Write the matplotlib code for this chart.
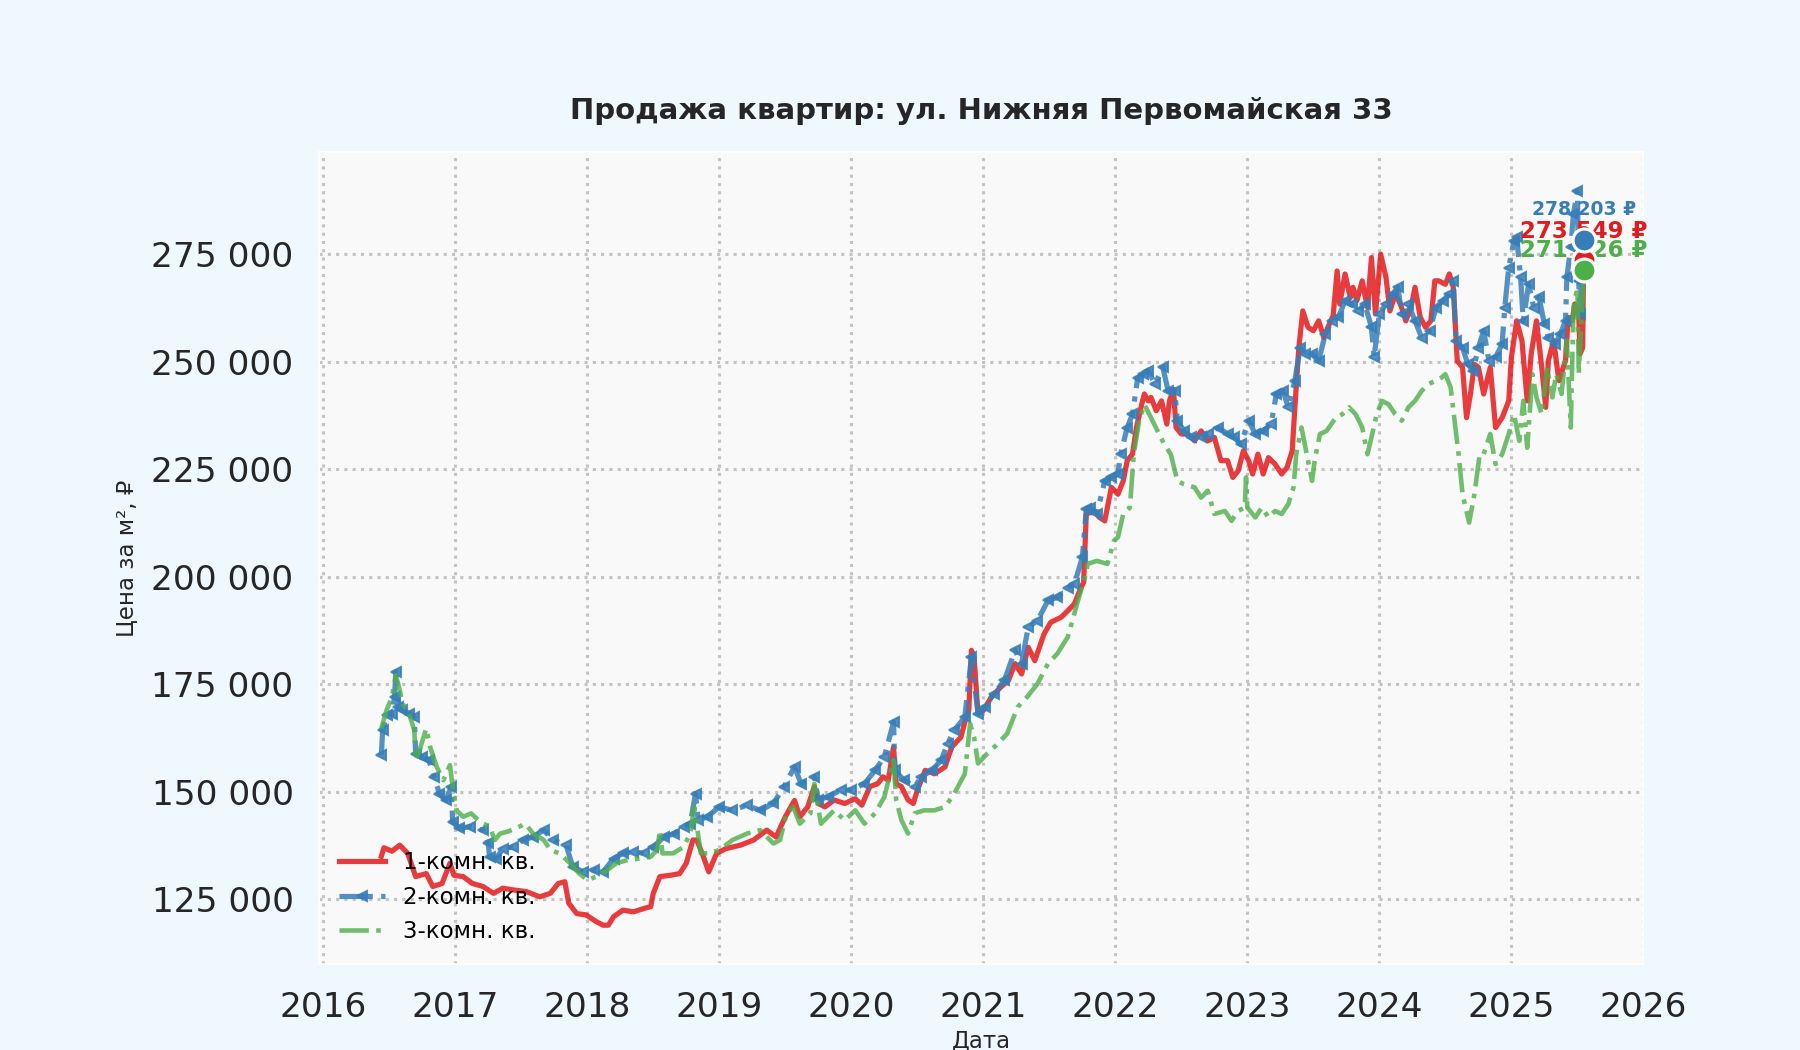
import numpy as np
import matplotlib
matplotlib.use("Agg")
import matplotlib.pyplot as plt
from matplotlib.ticker import FuncFormatter

# 1-комн. кв. (год, тыс. руб за м2)
years_1 = [2016.44, 2016.46, 2016.52, 2016.58, 2016.64, 2016.70, 2016.78, 2016.83, 2016.90, 2016.96,
           2016.99, 2017.06, 2017.13, 2017.21, 2017.29, 2017.36, 2017.44, 2017.54, 2017.64, 2017.72,
           2017.78, 2017.83, 2017.86, 2017.92, 2017.99, 2018.07, 2018.12, 2018.16, 2018.20, 2018.27,
           2018.35, 2018.43, 2018.48, 2018.50, 2018.55, 2018.63, 2018.70, 2018.75, 2018.80, 2018.83,
           2018.88, 2018.92, 2018.98, 2019.05, 2019.16, 2019.26, 2019.36, 2019.43, 2019.50, 2019.57,
           2019.61, 2019.67, 2019.72, 2019.75, 2019.80, 2019.87, 2019.95, 2020.03, 2020.08, 2020.14,
           2020.20, 2020.24, 2020.28, 2020.32, 2020.34, 2020.38, 2020.43, 2020.47, 2020.50, 2020.56,
           2020.63, 2020.71, 2020.76, 2020.83, 2020.87, 2020.89, 2020.91, 2020.93, 2020.96, 2021.00,
           2021.06, 2021.13, 2021.19, 2021.24, 2021.29, 2021.34, 2021.39, 2021.46, 2021.51, 2021.59,
           2021.64, 2021.69, 2021.74, 2021.76, 2021.78, 2021.84, 2021.88, 2021.92, 2021.97, 2022.02,
           2022.06, 2022.09, 2022.13, 2022.16, 2022.20, 2022.22, 2022.25, 2022.27, 2022.31, 2022.35,
           2022.39, 2022.41, 2022.44, 2022.46, 2022.50, 2022.55, 2022.60, 2022.65, 2022.70, 2022.75,
           2022.80, 2022.85, 2022.89, 2022.93, 2022.97, 2023.01, 2023.04, 2023.08, 2023.12, 2023.16,
           2023.21, 2023.26, 2023.30, 2023.34, 2023.36, 2023.39, 2023.42, 2023.46, 2023.50, 2023.54,
           2023.58, 2023.61, 2023.65, 2023.68, 2023.70, 2023.74, 2023.78, 2023.80, 2023.83, 2023.87,
           2023.91, 2023.94, 2023.97, 2024.01, 2024.05, 2024.08, 2024.12, 2024.16, 2024.20, 2024.24,
           2024.27, 2024.31, 2024.35, 2024.39, 2024.42, 2024.45, 2024.50, 2024.53, 2024.56, 2024.59,
           2024.63, 2024.66, 2024.69, 2024.72, 2024.75, 2024.79, 2024.84, 2024.88, 2024.93, 2024.98,
           2025.00, 2025.04, 2025.08, 2025.12, 2025.15, 2025.19, 2025.23, 2025.26, 2025.28, 2025.32,
           2025.36, 2025.41, 2025.43, 2025.46, 2025.48, 2025.51, 2025.52, 2025.54, 2025.547]
price_1 = [135.0, 137.0, 136.2, 137.6, 135.7, 130.3, 131.0, 128.0, 128.7, 133.4,
           130.6, 130.3, 128.7, 128.0, 126.4, 127.6, 127.2, 126.8, 125.6, 126.4,
           128.7, 129.1, 124.1, 121.7, 121.4, 119.8, 119.0, 119.0, 121.0, 122.5,
           122.1, 122.9, 123.3, 126.4, 130.3, 130.6, 131.0, 133.4, 138.8, 138.8,
           134.9, 131.4, 135.7, 136.8, 137.6, 138.8, 141.1, 139.5, 144.2, 148.0,
           144.2, 146.5, 151.2, 147.3, 146.5, 148.1, 147.3, 148.4, 146.9, 151.2,
           151.9, 153.5, 152.7, 160.4, 151.9, 151.2, 148.1, 147.3, 150.4, 155.0,
           154.2, 155.8, 160.4, 162.7, 167.4, 168.9, 182.9, 181.3, 168.2, 168.9,
           172.0, 174.3, 175.9, 179.8, 177.4, 183.6, 180.5, 186.7, 189.4, 190.6,
           192.1, 193.7, 197.5, 198.7, 214.6, 215.3, 213.8, 213.0, 220.8, 219.2,
           222.3, 227.0, 228.5, 234.7, 240.1, 242.5, 240.9, 241.7, 238.6, 240.9,
           235.5, 240.9, 243.6, 234.7, 233.2, 233.2, 231.6, 233.9, 231.6, 232.4,
           227.0, 227.0, 223.1, 224.6, 229.3, 227.0, 223.9, 228.5, 223.9, 227.7,
           226.2, 223.9, 225.4, 229.3, 239.4, 253.3, 261.8, 258.0, 257.2, 259.5,
           255.6, 258.0, 260.7, 271.1, 263.4, 270.4, 264.9, 267.3, 264.2, 268.8,
           262.6, 274.2, 261.1, 275.0, 269.6, 261.8, 265.7, 263.4, 259.5, 262.6,
           267.3, 260.3, 258.0, 259.5, 268.8, 268.8, 268.0, 270.4, 267.3, 250.2,
           248.7, 237.0, 242.5, 249.4, 248.7, 242.5, 248.7, 234.7, 237.0, 240.9,
           251.0, 259.5, 254.9, 240.9, 251.8, 259.5, 248.7, 239.4, 250.2, 254.9,
           245.6, 250.2, 260.3, 259.5, 263.4, 261.1, 251.8, 253.3, 273.549]

# 2-комн. кв.
years_2 = [2016.44, 2016.45, 2016.48, 2016.52, 2016.54, 2016.55, 2016.57, 2016.60, 2016.65, 2016.69,
           2016.70, 2016.75, 2016.80, 2016.84, 2016.88, 2016.93, 2016.97, 2016.98, 2017.03, 2017.11,
           2017.21, 2017.25, 2017.26, 2017.31, 2017.36, 2017.44, 2017.51, 2017.59, 2017.67, 2017.74,
           2017.84, 2017.89, 2017.97, 2018.05, 2018.12, 2018.20, 2018.27, 2018.35, 2018.43, 2018.50,
           2018.58, 2018.66, 2018.73, 2018.78, 2018.82, 2018.84, 2018.91, 2019.00, 2019.10, 2019.21,
           2019.31, 2019.41, 2019.49, 2019.57, 2019.62, 2019.72, 2019.75, 2019.82, 2019.92, 2020.00,
           2020.10, 2020.18, 2020.25, 2020.32, 2020.33, 2020.40, 2020.48, 2020.53, 2020.61, 2020.68,
           2020.73, 2020.78, 2020.86, 2020.91, 2020.96, 2021.01, 2021.08, 2021.16, 2021.24, 2021.29,
           2021.34, 2021.41, 2021.49, 2021.56, 2021.64, 2021.69, 2021.75, 2021.78, 2021.81, 2021.86,
           2021.92, 2021.97, 2022.02, 2022.04, 2022.09, 2022.13, 2022.17, 2022.21, 2022.25, 2022.30,
           2022.36, 2022.40, 2022.45, 2022.47, 2022.52, 2022.57, 2022.65, 2022.70, 2022.78, 2022.85,
           2022.90, 2022.95, 2023.01, 2023.06, 2023.12, 2023.18, 2023.22, 2023.27, 2023.31, 2023.36,
           2023.40, 2023.44, 2023.49, 2023.54, 2023.59, 2023.64, 2023.69, 2023.74, 2023.79, 2023.84,
           2023.89, 2023.94, 2023.96, 2024.00, 2024.05, 2024.10, 2024.14, 2024.17, 2024.22, 2024.27,
           2024.32, 2024.38, 2024.43, 2024.48, 2024.53, 2024.56, 2024.58, 2024.63, 2024.67, 2024.71,
           2024.75, 2024.79, 2024.83, 2024.88, 2024.93, 2024.95, 2024.98, 2025.02, 2025.04, 2025.07,
           2025.09, 2025.13, 2025.17, 2025.21, 2025.25, 2025.28, 2025.33, 2025.37, 2025.41, 2025.42,
           2025.45, 2025.47, 2025.50, 2025.51, 2025.52, 2025.54, 2025.547]
price_2 = [158.5, 164.3, 167.8, 168.2, 172.0, 177.9, 169.7, 169.0, 168.2, 167.4,
           158.9, 158.1, 157.4, 153.5, 149.6, 148.1, 151.2, 143.0, 141.5, 141.9,
           141.1, 138.0, 134.9, 134.5, 136.8, 137.2, 138.8, 139.5, 141.1, 138.8,
           137.6, 132.6, 131.4, 131.8, 131.4, 134.5, 135.7, 136.1, 135.7, 137.2,
           139.5, 140.3, 141.9, 142.6, 149.6, 143.4, 144.2, 146.5, 145.7, 146.9,
           145.7, 147.3, 151.2, 155.8, 151.9, 153.5, 148.1, 148.8, 150.4, 150.4,
           151.9, 155.0, 158.1, 166.2, 155.0, 152.7, 151.2, 153.5, 155.0, 157.3,
           161.2, 164.3, 167.4, 181.3, 168.2, 169.7, 172.8, 175.9, 182.9, 179.8,
           188.3, 189.8, 194.5, 195.2, 197.5, 198.3, 204.5, 215.7, 216.1, 214.6,
           222.3, 223.1, 223.9, 228.5, 234.7, 237.8, 246.3, 247.1, 247.9, 244.8,
           248.7, 243.2, 243.2, 236.3, 233.9, 232.4, 232.4, 233.2, 234.7, 233.2,
           232.4, 230.8, 236.3, 233.2, 233.9, 235.5, 242.5, 243.2, 239.4, 245.6,
           253.3, 251.8, 251.8, 250.2, 256.4, 259.5, 260.3, 264.2, 263.4, 261.8,
           263.4, 258.0, 251.0, 261.1, 263.4, 265.7, 267.3, 261.0, 263.4, 259.5,
           255.6, 257.2, 262.6, 264.2, 265.7, 268.8, 254.9, 253.3, 249.4, 247.9,
           253.3, 257.2, 250.2, 251.0, 254.1, 262.6, 271.9, 278.1, 278.9, 269.6,
           259.5, 268.0, 262.6, 265.0, 258.7, 255.6, 254.1, 256.4, 259.5, 269.6,
           276.6, 284.3, 289.7, 268.8, 261.1, 276.6, 278.203]

# 3-комн. кв.
years_3 = [2016.44, 2016.48, 2016.52, 2016.55, 2016.58, 2016.60, 2016.65, 2016.69, 2016.70, 2016.73,
           2016.78, 2016.81, 2016.86, 2016.91, 2016.96, 2016.98, 2017.01, 2017.06, 2017.12, 2017.19,
           2017.26, 2017.30, 2017.34, 2017.39, 2017.46, 2017.53, 2017.59, 2017.67, 2017.72, 2017.79,
           2017.87, 2017.94, 2018.00, 2018.07, 2018.15, 2018.22, 2018.30, 2018.40, 2018.48, 2018.53,
           2018.55, 2018.57, 2018.65, 2018.73, 2018.78, 2018.81, 2018.86, 2018.93, 2019.00, 2019.10,
           2019.21, 2019.31, 2019.41, 2019.46, 2019.51, 2019.56, 2019.61, 2019.69, 2019.72, 2019.77,
           2019.87, 2019.95, 2020.03, 2020.10, 2020.18, 2020.25, 2020.32, 2020.34, 2020.38, 2020.43,
           2020.48, 2020.55, 2020.63, 2020.71, 2020.78, 2020.86, 2020.90, 2020.93, 2020.96, 2021.03,
           2021.11, 2021.18, 2021.26, 2021.33, 2021.41, 2021.49, 2021.56, 2021.64, 2021.71, 2021.74,
           2021.77, 2021.79, 2021.86, 2021.94, 2021.99, 2022.02, 2022.06, 2022.11, 2022.14, 2022.18,
           2022.22, 2022.27, 2022.32, 2022.37, 2022.42, 2022.47, 2022.52, 2022.60, 2022.65, 2022.70,
           2022.75, 2022.83, 2022.88, 2022.93, 2022.98, 2022.99, 2023.00, 2023.06, 2023.11, 2023.16,
           2023.21, 2023.26, 2023.31, 2023.35, 2023.37, 2023.41, 2023.45, 2023.49, 2023.51, 2023.55,
           2023.60, 2023.67, 2023.72, 2023.77, 2023.82, 2023.87, 2023.91, 2023.94, 2023.98, 2024.02,
           2024.07, 2024.12, 2024.17, 2024.22, 2024.27, 2024.32, 2024.37, 2024.43, 2024.47, 2024.50,
           2024.54, 2024.57, 2024.60, 2024.63, 2024.68, 2024.72, 2024.76, 2024.79, 2024.84, 2024.88,
           2024.93, 2024.98, 2025.02, 2025.06, 2025.09, 2025.12, 2025.16, 2025.19, 2025.23, 2025.27,
           2025.31, 2025.34, 2025.38, 2025.42, 2025.45, 2025.47, 2025.50, 2025.51, 2025.54, 2025.547]
price_3 = [164.7, 169.0, 172.0, 177.1, 173.6, 170.5, 168.2, 164.3, 157.4, 159.7,
           164.7, 160.4, 155.8, 152.7, 156.2, 151.2, 145.7, 144.2, 145.0, 143.0,
           141.9, 138.8, 140.3, 140.7, 141.5, 142.6, 140.3, 138.8, 136.5, 135.7,
           133.4, 131.0, 129.5, 130.3, 131.8, 133.4, 134.1, 134.5, 134.9, 136.5,
           141.1, 135.7, 135.7, 137.2, 140.3, 146.5, 135.7, 135.7, 136.5, 138.8,
           140.3, 141.1, 138.0, 138.8, 145.0, 146.5, 142.6, 145.0, 151.9, 142.6,
           145.7, 143.4, 145.7, 142.6, 145.0, 148.8, 157.3, 148.1, 143.4, 140.3,
           145.0, 145.7, 145.7, 146.5, 149.6, 154.2, 165.8, 162.7, 156.6, 158.9,
           161.2, 163.5, 169.7, 172.0, 175.1, 179.8, 182.1, 186.0, 193.7, 196.8,
           199.9, 203.0, 203.7, 203.0, 208.4, 209.2, 214.6, 216.1, 228.5, 236.3,
           240.1, 237.0, 233.9, 230.8, 228.5, 222.3, 221.5, 220.8, 218.4, 220.0,
           214.6, 215.3, 213.0, 215.3, 216.1, 223.1, 216.1, 213.8, 216.1, 213.8,
           215.3, 214.6, 216.9, 220.8, 228.5, 234.7, 228.5, 222.3, 227.0, 233.2,
           233.9, 237.0, 237.8, 239.4, 237.8, 234.7, 228.5, 232.4, 237.8, 240.9,
           240.1, 237.8, 236.3, 239.4, 240.9, 243.2, 244.8, 245.6, 246.3, 247.1,
           244.0, 236.3, 228.5, 219.2, 212.6, 219.2, 228.5, 228.5, 233.2, 226.2,
           228.5, 233.2, 237.8, 231.6, 240.9, 230.0, 247.1, 241.7, 237.8, 248.7,
           241.7, 247.1, 242.5, 254.9, 234.7, 262.6, 267.3, 247.1, 264.9, 271.326]

series_labels = ["1-комн. кв.", "2-комн. кв.", "3-комн. кв."]
series_colors = ["#e41a1c", "#377eb8", "#4daf4a"]
year_ticks = list(range(2016, 2027))
price_ticks = [125000, 150000, 175000, 200000, 225000, 250000, 275000]

plt.rcParams['font.family'] = ['DejaVu Sans']

fig = plt.figure(figsize=(12, 7), dpi=150, facecolor="#f0f8ff")
ax = fig.add_axes([0.177, 0.082, 0.736, 0.773])
ax.set_facecolor("#f9f9f9")

p1 = np.array(price_1) * 1000
p2 = np.array(price_2) * 1000
p3 = np.array(price_3) * 1000

ax.plot(years_1, p1, color=series_colors[0], lw=2.5, alpha=0.85, label=series_labels[0], zorder=3)
ax.plot(years_2, p2, color=series_colors[1], lw=2.5, ls="-.", marker="<", markersize=5,
        alpha=0.85, label=series_labels[1], zorder=3)
ax.plot(years_3, p3, color=series_colors[2], lw=2.2, ls="-.", alpha=0.8, label=series_labels[2], zorder=3)

# подписи последних значений
ends = [(years_1[-1], p1[-1], 11, 13.8), (years_2[-1], p2[-1], 9, 14.9), (years_3[-1], p3[-1], 11, 9.4)]
for (x, y, fs, dy), col in zip(ends, series_colors):
    txt = f"{int(round(y)):,}".replace(",", " ") + " ₽"
    ax.annotate(txt, (x, y), xytext=(0, dy), textcoords="offset points", ha="center", va="center",
                fontsize=fs, fontweight="bold", color=col, zorder=5)
for i in [0, 1, 2]:
    x, y = ends[i][0], ends[i][1]
    ax.plot([x], [y], "o", color=series_colors[i], markersize=11, markeredgecolor="white",
            markeredgewidth=1.5, zorder=6 + i)

ax.set_xlim(2015.965, 2026.0)
ax.set_ylim(110000, 298700)
ax.set_xticks(year_ticks)
ax.set_xticklabels([str(y) for y in year_ticks])
ax.set_yticks(price_ticks)
ax.yaxis.set_major_formatter(FuncFormatter(lambda v, pos: f"{int(v):,}".replace(",", " ")))
ax.tick_params(length=0, labelsize=16.5, pad=12, colors="#262626")
ax.tick_params(axis="x", pad=13)
ax.grid(True, ls=":", lw=1.5, color="#c4c4c4")
for s in ax.spines.values():
    s.set_color("white")

ax.set_title("Продажа квартир: ул. Нижняя Первомайская 33", fontsize=14, fontweight="bold",
             color="#262626", pad=16)
ax.set_xlabel("Дата", fontsize=11, color="#262626", labelpad=3)
ax.set_ylabel("Цена за м², ₽", fontsize=11, color="#262626", labelpad=6)
ax.legend(loc="lower left", frameon=False, fontsize=11)

fig.savefig("out.png", dpi=150, facecolor=fig.get_facecolor())
